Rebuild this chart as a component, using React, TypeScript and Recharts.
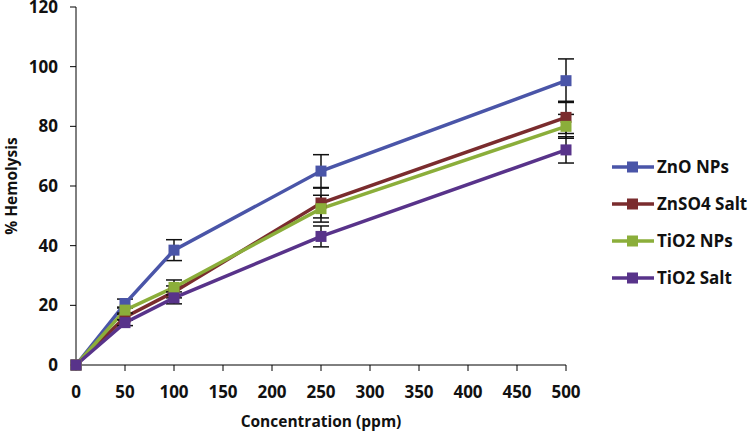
import { LineChart, Line, XAxis, YAxis, ErrorBar } from 'recharts';

const concentrations = [0, 50, 100, 250, 500];

const znoNps = [0, 20.6, 38.5, 65, 95.3];
const znoNpsErr = [0, 1.5, 3.5, 5.5, 7.3];
const znso4Salt = [0, 16, 24.5, 54.3, 83];
const znso4SaltErr = [0, 1, 2, 5, 5.4];
const tio2Nps = [0, 18.4, 26, 52.4, 80];
const tio2NpsErr = [0, 1, 2.5, 4.5, 4];
const tio2Salt = [0, 14.2, 22.5, 43.1, 72.1];
const tio2SaltErr = [0, 1, 2, 3.5, 4.4];

const xTicks = [0, 50, 100, 150, 200, 250, 300, 350, 400, 450, 500];
const yTicks = [0, 20, 40, 60, 80, 100, 120];

const series = [
  { key: 'zno', name: 'ZnO NPs', color: '#4A55A8' },
  { key: 'znso4', name: 'ZnSO4 Salt', color: '#7A2C2E' },
  { key: 'tio2', name: 'TiO2 NPs', color: '#8BAE3A' },
  { key: 'tio2s', name: 'TiO2 Salt', color: '#58338A' },
];

const data = concentrations.map((c, i) => ({
  x: c,
  zno: znoNps[i], znoErr: znoNpsErr[i],
  znso4: znso4Salt[i], znso4Err: znso4SaltErr[i],
  tio2: tio2Nps[i], tio2Err: tio2NpsErr[i],
  tio2s: tio2Salt[i], tio2sErr: tio2SaltErr[i],
}));

const FONT = '"Open Sans", sans-serif';

const squareDot = (color: string) => (props: any) => {
  const { cx, cy, index } = props;
  if (cx == null || cy == null) return <g key={index} />;
  return <rect key={index} x={cx - 5.5} y={cy - 5.5} width={11} height={11} fill={color} />;
};

export default function App() {
  return (
    <div style={{ position: 'absolute', left: 0, top: 0, width: 750, height: 433, background: '#fff' }}>
      <LineChart
        width={750}
        height={433}
        data={data}
        margin={{ top: 7, right: 184, left: 0, bottom: 0 }}
      >
        <XAxis
          dataKey="x"
          type="number"
          domain={[0, 500]}
          ticks={xTicks}
          interval={0}
          height={68}
          stroke="#000"
          tickSize={6}
          tick={{ fontSize: 17, fontWeight: 700, fill: '#111', fontFamily: FONT, dy: 13 }}
          label={{
            value: 'Concentration (ppm)',
            position: 'insideBottom',
            offset: 6,
            style: { fontSize: 15.5, fontWeight: 700, fill: '#111', fontFamily: FONT },
          }}
        />
        <YAxis
          type="number"
          domain={[0, 120]}
          ticks={yTicks}
          interval={0}
          width={76}
          stroke="#000"
          tickSize={6}
          tick={{ fontSize: 17, fontWeight: 700, fill: '#111', fontFamily: FONT, dx: -10 }}
          label={{
            value: '% Hemolysis',
            angle: -90,
            position: 'insideLeft',
            offset: 11,
            style: { fontSize: 15.5, fontWeight: 700, fill: '#111', fontFamily: FONT, textAnchor: 'middle' },
          }}
        />
        {series.map((s) => (
          <Line
            key={s.key}
            dataKey={s.key}
            name={s.name}
            stroke={s.color}
            strokeWidth={3.5}
            dot={squareDot(s.color)}
            activeDot={false}
            isAnimationActive={false}
          >
            <ErrorBar dataKey={s.key + 'Err'} direction="y" width={8} stroke="#111" strokeWidth={1.5} />
          </Line>
        ))}
      </LineChart>
      <div style={{ position: 'absolute', left: 612, top: 148, fontFamily: FONT, fontWeight: 700, fontSize: 17, color: '#111' }}>
        {series.map((s) => (
          <div key={s.key} style={{ display: 'flex', alignItems: 'center', height: 37, whiteSpace: 'nowrap' }}>
            <svg width={42} height={12} style={{ marginRight: 3 }}>
              <line x1={0} y1={6} x2={42} y2={6} stroke={s.color} strokeWidth={3.5} />
              <rect x={15} y={0.5} width={11} height={11} fill={s.color} />
            </svg>
            <span>{s.name}</span>
          </div>
        ))}
      </div>
    </div>
  );
}
